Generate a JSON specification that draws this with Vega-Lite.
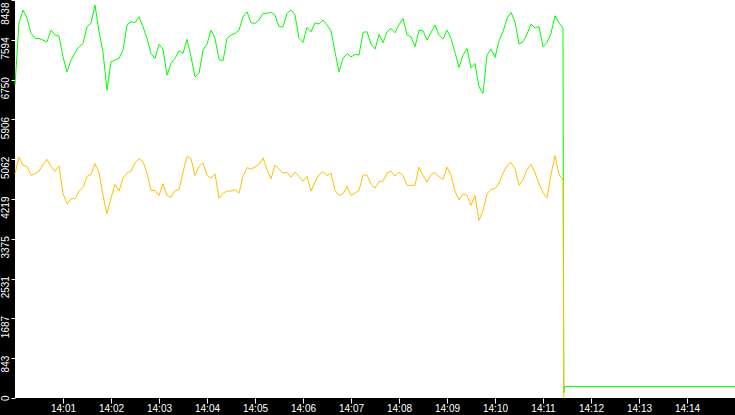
{
  "$schema": "https://vega.github.io/schema/vega-lite/v6.json",
  "width": 720,
  "height": 398,
  "autosize": {"type": "none"},
  "padding": {"left": 15, "top": 0, "right": 0, "bottom": 17},
  "background": "black",
  "config": {
    "view": {"fill": "white", "stroke": null},
    "axis": {
      "grid": false,
      "domain": false,
      "tickColor": "white",
      "labelColor": "white",
      "labelFont": "Liberation Sans",
      "labelFontSize": 10,
      "labelOverlap": false,
      "labelFlush": false,
      "labelBound": false
    }
  },
  "data": {
    "format": {"parse": {"t": "date:'%H:%M:%S'"}},
    "values": [
      {"t": "14:00:00", "g": 6632, "y": 4755},
      {"t": "14:00:05", "g": 7956, "y": 5108},
      {"t": "14:00:10", "g": 8225, "y": 4932},
      {"t": "14:00:15", "g": 8049, "y": 4910},
      {"t": "14:00:20", "g": 7730, "y": 4719},
      {"t": "14:00:25", "g": 7624, "y": 4755},
      {"t": "14:00:30", "g": 7624, "y": 4811},
      {"t": "14:00:35", "g": 7588, "y": 4947},
      {"t": "14:00:40", "g": 7552, "y": 5059},
      {"t": "14:00:45", "g": 7800, "y": 4910},
      {"t": "14:00:50", "g": 7694, "y": 4804},
      {"t": "14:00:55", "g": 7673, "y": 4917},
      {"t": "14:01:00", "g": 7233, "y": 4330},
      {"t": "14:01:05", "g": 6914, "y": 4118},
      {"t": "14:01:10", "g": 7163, "y": 4224},
      {"t": "14:01:15", "g": 7318, "y": 4224},
      {"t": "14:01:20", "g": 7446, "y": 4386},
      {"t": "14:01:25", "g": 7518, "y": 4458},
      {"t": "14:01:30", "g": 7871, "y": 4698},
      {"t": "14:01:35", "g": 7943, "y": 4740},
      {"t": "14:01:40", "g": 8332, "y": 4968},
      {"t": "14:01:45", "g": 7764, "y": 4789},
      {"t": "14:01:50", "g": 7339, "y": 4294},
      {"t": "14:01:55", "g": 6525, "y": 3905},
      {"t": "14:02:00", "g": 7127, "y": 4237},
      {"t": "14:02:05", "g": 7163, "y": 4528},
      {"t": "14:02:10", "g": 7199, "y": 4386},
      {"t": "14:02:15", "g": 7375, "y": 4662},
      {"t": "14:02:20", "g": 7907, "y": 4768},
      {"t": "14:02:25", "g": 7977, "y": 4811},
      {"t": "14:02:30", "g": 7956, "y": 4981},
      {"t": "14:02:35", "g": 8083, "y": 5074},
      {"t": "14:02:40", "g": 7871, "y": 5010},
      {"t": "14:02:45", "g": 7624, "y": 4768},
      {"t": "14:02:50", "g": 7305, "y": 4400},
      {"t": "14:02:55", "g": 7199, "y": 4400},
      {"t": "14:03:00", "g": 7497, "y": 4294},
      {"t": "14:03:05", "g": 7397, "y": 4543},
      {"t": "14:03:10", "g": 6844, "y": 4294},
      {"t": "14:03:15", "g": 7093, "y": 4258},
      {"t": "14:03:20", "g": 7199, "y": 4400},
      {"t": "14:03:25", "g": 7361, "y": 4415},
      {"t": "14:03:30", "g": 7305, "y": 4789},
      {"t": "14:03:35", "g": 7603, "y": 5123},
      {"t": "14:03:40", "g": 7233, "y": 5074},
      {"t": "14:03:45", "g": 6808, "y": 4719},
      {"t": "14:03:50", "g": 6880, "y": 4910},
      {"t": "14:03:55", "g": 7375, "y": 4981},
      {"t": "14:04:00", "g": 7503, "y": 4719},
      {"t": "14:04:05", "g": 7800, "y": 4662},
      {"t": "14:04:10", "g": 7624, "y": 4755},
      {"t": "14:04:15", "g": 7178, "y": 4237},
      {"t": "14:04:20", "g": 7148, "y": 4343},
      {"t": "14:04:25", "g": 7624, "y": 4386},
      {"t": "14:04:30", "g": 7694, "y": 4386},
      {"t": "14:04:35", "g": 7730, "y": 4415},
      {"t": "14:04:40", "g": 7800, "y": 4343},
      {"t": "14:04:45", "g": 8083, "y": 4698},
      {"t": "14:04:50", "g": 8189, "y": 4883},
      {"t": "14:04:55", "g": 7956, "y": 4853},
      {"t": "14:05:00", "g": 7943, "y": 4896},
      {"t": "14:05:05", "g": 8013, "y": 4953},
      {"t": "14:05:10", "g": 8155, "y": 5095},
      {"t": "14:05:15", "g": 8155, "y": 4840},
      {"t": "14:05:20", "g": 8177, "y": 4649},
      {"t": "14:05:25", "g": 8119, "y": 4938},
      {"t": "14:05:30", "g": 7871, "y": 4847},
      {"t": "14:05:35", "g": 7871, "y": 4768},
      {"t": "14:05:40", "g": 8155, "y": 4783},
      {"t": "14:05:45", "g": 8225, "y": 4683},
      {"t": "14:05:50", "g": 8119, "y": 4789},
      {"t": "14:05:55", "g": 7624, "y": 4698},
      {"t": "14:06:00", "g": 7539, "y": 4598},
      {"t": "14:06:05", "g": 7858, "y": 4698},
      {"t": "14:06:10", "g": 7764, "y": 4386},
      {"t": "14:06:15", "g": 7956, "y": 4577},
      {"t": "14:06:20", "g": 7928, "y": 4734},
      {"t": "14:06:25", "g": 8013, "y": 4798},
      {"t": "14:06:30", "g": 7907, "y": 4713},
      {"t": "14:06:35", "g": 7786, "y": 4768},
      {"t": "14:06:40", "g": 7339, "y": 4400},
      {"t": "14:06:45", "g": 6914, "y": 4294},
      {"t": "14:06:50", "g": 7199, "y": 4330},
      {"t": "14:06:55", "g": 7305, "y": 4485},
      {"t": "14:07:00", "g": 7233, "y": 4294},
      {"t": "14:07:05", "g": 7284, "y": 4343},
      {"t": "14:07:10", "g": 7269, "y": 4400},
      {"t": "14:07:15", "g": 7752, "y": 4726},
      {"t": "14:07:20", "g": 7764, "y": 4726},
      {"t": "14:07:25", "g": 7503, "y": 4528},
      {"t": "14:07:30", "g": 7397, "y": 4449},
      {"t": "14:07:35", "g": 7709, "y": 4585},
      {"t": "14:07:40", "g": 7531, "y": 4598},
      {"t": "14:07:45", "g": 7764, "y": 4768},
      {"t": "14:07:50", "g": 7837, "y": 4811},
      {"t": "14:07:55", "g": 7743, "y": 4704},
      {"t": "14:08:00", "g": 7913, "y": 4789},
      {"t": "14:08:05", "g": 8049, "y": 4719},
      {"t": "14:08:10", "g": 7694, "y": 4507},
      {"t": "14:08:15", "g": 7658, "y": 4507},
      {"t": "14:08:20", "g": 7446, "y": 4513},
      {"t": "14:08:25", "g": 7800, "y": 4896},
      {"t": "14:08:30", "g": 7786, "y": 4719},
      {"t": "14:08:35", "g": 7588, "y": 4577},
      {"t": "14:08:40", "g": 7743, "y": 4740},
      {"t": "14:08:45", "g": 7907, "y": 4777},
      {"t": "14:08:50", "g": 7694, "y": 4698},
      {"t": "14:08:55", "g": 7609, "y": 4634},
      {"t": "14:09:00", "g": 7800, "y": 4896},
      {"t": "14:09:05", "g": 7624, "y": 4719},
      {"t": "14:09:10", "g": 7327, "y": 4386},
      {"t": "14:09:15", "g": 7008, "y": 4203},
      {"t": "14:09:20", "g": 7269, "y": 4330},
      {"t": "14:09:25", "g": 7412, "y": 4294},
      {"t": "14:09:30", "g": 6999, "y": 4082},
      {"t": "14:09:35", "g": 7093, "y": 4294},
      {"t": "14:09:40", "g": 6596, "y": 3763},
      {"t": "14:09:45", "g": 6455, "y": 3975},
      {"t": "14:09:50", "g": 7269, "y": 4330},
      {"t": "14:09:55", "g": 7397, "y": 4422},
      {"t": "14:10:00", "g": 7220, "y": 4443},
      {"t": "14:10:05", "g": 7573, "y": 4549},
      {"t": "14:10:10", "g": 7764, "y": 4768},
      {"t": "14:10:15", "g": 8049, "y": 4917},
      {"t": "14:10:20", "g": 8177, "y": 4989},
      {"t": "14:10:25", "g": 7977, "y": 4862},
      {"t": "14:10:30", "g": 7503, "y": 4513},
      {"t": "14:10:35", "g": 7552, "y": 4628},
      {"t": "14:10:40", "g": 7715, "y": 4840},
      {"t": "14:10:45", "g": 7928, "y": 4953},
      {"t": "14:10:50", "g": 7843, "y": 4783},
      {"t": "14:10:55", "g": 7871, "y": 4543},
      {"t": "14:11:00", "g": 7446, "y": 4352},
      {"t": "14:11:05", "g": 7539, "y": 4245},
      {"t": "14:11:10", "g": 7730, "y": 4740},
      {"t": "14:11:15", "g": 8104, "y": 5138},
      {"t": "14:11:20", "g": 7956, "y": 4747},
      {"t": "14:11:25", "g": 7837, "y": 4613},
      {"t": "14:11:26", "g": 110, "y": 0},
      {"t": "14:11:27", "g": 242},
      {"t": "14:15:00", "g": 242}
    ]
  },
  "transform": [
    {"fold": ["g", "y"], "as": ["series", "value"]}
  ],
  "mark": {"type": "line", "strokeWidth": 1},
  "encoding": {
    "x": {
      "field": "t",
      "type": "temporal",
      "title": null,
      "scale": {
        "domain": [
          {"year": 1900, "month": 1, "date": 1, "hours": 14, "minutes": 0},
          {"year": 1900, "month": 1, "date": 1, "hours": 14, "minutes": 15}
        ]
      },
      "axis": {
        "format": "%H:%M",
        "tickSize": 5,
        "labelPadding": 0,
        "values": [
          {"year": 1900, "month": 1, "date": 1, "hours": 14, "minutes": 1},
          {"year": 1900, "month": 1, "date": 1, "hours": 14, "minutes": 2},
          {"year": 1900, "month": 1, "date": 1, "hours": 14, "minutes": 3},
          {"year": 1900, "month": 1, "date": 1, "hours": 14, "minutes": 4},
          {"year": 1900, "month": 1, "date": 1, "hours": 14, "minutes": 5},
          {"year": 1900, "month": 1, "date": 1, "hours": 14, "minutes": 6},
          {"year": 1900, "month": 1, "date": 1, "hours": 14, "minutes": 7},
          {"year": 1900, "month": 1, "date": 1, "hours": 14, "minutes": 8},
          {"year": 1900, "month": 1, "date": 1, "hours": 14, "minutes": 9},
          {"year": 1900, "month": 1, "date": 1, "hours": 14, "minutes": 10},
          {"year": 1900, "month": 1, "date": 1, "hours": 14, "minutes": 11},
          {"year": 1900, "month": 1, "date": 1, "hours": 14, "minutes": 12},
          {"year": 1900, "month": 1, "date": 1, "hours": 14, "minutes": 13},
          {"year": 1900, "month": 1, "date": 1, "hours": 14, "minutes": 14}
        ]
      }
    },
    "y": {
      "field": "value",
      "type": "quantitative",
      "title": null,
      "scale": {"domain": [0, 8438], "nice": false},
      "axis": {
        "values": [0, 843, 1687, 2531, 3375, 4219, 5062, 5906, 6750, 7594, 8438],
        "format": "d",
        "tickSize": 4,
        "labelPadding": 1,
        "labelAngle": -90,
        "labelAlign": "right",
        "labelBaseline": "bottom",
        "labelOffset": {"expr": "datum.value > 8000 ? 2 : -3"},
        "labelOverlap": false
      }
    },
    "color": {
      "field": "series",
      "type": "nominal",
      "scale": {"domain": ["g", "y"], "range": ["#00ff00", "#ffc000"]},
      "legend": null
    }
  }
}
